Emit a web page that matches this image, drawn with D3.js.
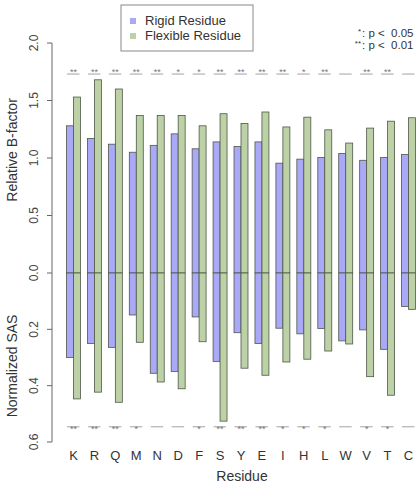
<!DOCTYPE html>
<html>
<head>
<meta charset="utf-8">
<script src="https://cdn.jsdelivr.net/npm/d3@7"></script>
<style>
  body { margin: 0; background: #fff; }
  svg { display: block; font-family: "Liberation Sans", Arial, sans-serif; }
</style>
</head>
<body>
<div id="chart"></div>
<script>
// residues along the x axis
const residues = ["K", "R", "Q", "M", "N", "D", "F", "S", "Y", "E", "I", "H", "L", "W", "V", "T", "C"];

// upper panel: relative B-factor
const rigidBfactor = [1.28, 1.17, 1.12, 1.05, 1.11, 1.21, 1.08, 1.14, 1.10, 1.14, 0.955, 0.99, 1.005, 1.04, 0.98, 1.005, 1.03];
const flexibleBfactor = [1.53, 1.68, 1.60, 1.37, 1.37, 1.37, 1.28, 1.385, 1.30, 1.40, 1.27, 1.355, 1.245, 1.13, 1.26, 1.32, 1.35];

// lower panel: normalized SAS (drawn downward)
const rigidSAS = [0.30, 0.25, 0.264, 0.149, 0.356, 0.35, 0.156, 0.314, 0.212, 0.25, 0.196, 0.216, 0.197, 0.241, 0.202, 0.271, 0.119];
const flexibleSAS = [0.447, 0.423, 0.459, 0.246, 0.387, 0.411, 0.244, 0.526, 0.338, 0.363, 0.316, 0.306, 0.277, 0.252, 0.368, 0.434, 0.129];

// significance marks
const sigBfactor = ["**", "**", "**", "**", "**", "*", "*", "**", "**", "**", "**", "*", "**", "", "**", "**", ""];
const sigSAS = ["**", "**", "**", "*", "", "", "*", "**", "**", "**", "*", "*", "*", "", "*", "*", ""];

const bTicks = [0, 0.5, 1.0, 1.5, 2.0];
const sasTicks = [0.2, 0.4, 0.6];

const width = 420, height = 486;
const axisX = 52;
const rigidColor = "#a9a9f7", flexColor = "#bcd2a6", barStroke = "#4f5648";

const svg = d3.select("#chart").append("svg")
    .attr("width", width)
    .attr("height", height);

// scales
const x = d3.scaleBand()
    .domain(residues)
    .range([63, 419])
    .paddingInner(1 / 3)
    .paddingOuter(1 / 6);

const xSub = d3.scaleBand()
    .domain(["rigid", "flexible"])
    .range([0, x.bandwidth()]);

const yB = d3.scaleLinear().domain([0, 2]).range([273, 43]);
const ySAS = d3.scaleLinear().domain([0, 0.6]).range([273, 442]);

// build rows
const rows = residues.map((r, i) => ({
    residue: r,
    bars: [
        { key: "rigid", b: rigidBfactor[i], sas: rigidSAS[i], color: rigidColor },
        { key: "flexible", b: flexibleBfactor[i], sas: flexibleSAS[i], color: flexColor }
    ],
    sigB: sigBfactor[i],
    sigS: sigSAS[i]
}));

const groups = svg.selectAll(".group")
    .data(rows)
    .join("g")
    .attr("class", "group")
    .attr("transform", d => `translate(${x(d.residue)},0)`);

// upper bars
groups.selectAll(".bar-b")
    .data(d => d.bars)
    .join("rect")
    .attr("class", "bar-b")
    .attr("x", d => xSub(d.key))
    .attr("width", xSub.bandwidth())
    .attr("y", d => yB(d.b))
    .attr("height", d => yB(0) - yB(d.b))
    .attr("fill", d => d.color)
    .attr("stroke", barStroke)
    .attr("stroke-width", 0.8);

// lower bars
groups.selectAll(".bar-s")
    .data(d => d.bars)
    .join("rect")
    .attr("class", "bar-s")
    .attr("x", d => xSub(d.key))
    .attr("width", xSub.bandwidth())
    .attr("y", ySAS(0))
    .attr("height", d => ySAS(d.sas) - ySAS(0))
    .attr("fill", d => d.color)
    .attr("stroke", barStroke)
    .attr("stroke-width", 0.8);

// significance lines and stars
const sigY = yB(1.73), sigYLow = ySAS(0.546);
groups.append("line")
    .attr("x1", 0.5).attr("x2", x.bandwidth() - 1)
    .attr("y1", sigY).attr("y2", sigY)
    .attr("stroke", "#8a8a8a").attr("stroke-width", 0.8);
groups.append("text")
    .attr("x", x.bandwidth() / 2)
    .attr("y", sigY + 1)
    .attr("text-anchor", "middle")
    .style("font-size", "9px")
    .style("fill", "#777")
    .text(d => d.sigB);

groups.append("line")
    .attr("x1", 0.5).attr("x2", x.bandwidth() - 1)
    .attr("y1", sigYLow).attr("y2", sigYLow)
    .attr("stroke", "#8a8a8a").attr("stroke-width", 0.8);
groups.append("text")
    .attr("x", x.bandwidth() / 2)
    .attr("y", sigYLow + 5.5)
    .attr("text-anchor", "middle")
    .style("font-size", "9px")
    .style("fill", "#777")
    .text(d => d.sigS);

// x labels
groups.append("text")
    .attr("x", x.bandwidth() / 2)
    .attr("y", 460)
    .attr("text-anchor", "middle")
    .style("font-size", "13px")
    .style("fill", "#333")
    .text(d => d.residue);

// y axes (R style: rotated tick labels)
const axisColor = "#666";
svg.append("line")
    .attr("x1", axisX).attr("x2", axisX)
    .attr("y1", yB(2)).attr("y2", ySAS(0.6))
    .attr("stroke", axisColor);

function tick(y, label) {
    svg.append("line")
        .attr("x1", axisX - 5).attr("x2", axisX)
        .attr("y1", y).attr("y2", y)
        .attr("stroke", axisColor);
    svg.append("text")
        .attr("transform", `translate(38,${y}) rotate(-90)`)
        .attr("text-anchor", "middle")
        .style("font-size", "12px")
        .style("fill", "#444")
        .text(label);
}
bTicks.forEach(t => tick(yB(t), d3.format(".1f")(t)));
sasTicks.forEach(t => tick(ySAS(t), d3.format(".1f")(t)));

// axis titles
svg.append("text")
    .attr("transform", `translate(17,${yB(1.07)}) rotate(-90)`)
    .attr("text-anchor", "middle")
    .style("font-size", "14px")
    .style("fill", "#333")
    .text("Relative B-factor");

svg.append("text")
    .attr("transform", `translate(17,${ySAS(0.33)}) rotate(-90)`)
    .attr("text-anchor", "middle")
    .style("font-size", "14px")
    .style("fill", "#333")
    .text("Normalized SAS");

svg.append("text")
    .attr("x", 242)
    .attr("y", 481)
    .attr("text-anchor", "middle")
    .style("font-size", "14px")
    .style("fill", "#333")
    .text("Residue");

// legend
const legend = svg.append("g").attr("transform", "translate(121,5)");
legend.append("rect")
    .attr("width", 132).attr("height", 46)
    .attr("fill", "white")
    .attr("stroke", "#888");
[{ label: "Rigid Residue", color: rigidColor }, { label: "Flexible Residue", color: flexColor }]
    .forEach((item, i) => {
        legend.append("rect")
            .attr("x", 9).attr("y", 13 + i * 15)
            .attr("width", 6).attr("height", 6)
            .attr("fill", item.color);
        legend.append("text")
            .attr("x", 24).attr("y", 20 + i * 15)
            .style("font-size", "13px")
            .style("fill", "#333")
            .text(item.label);
    });

// p-value key
const pKey = svg.append("g").attr("transform", "translate(361,0)");
[["*", ": p <  0.05"], ["**", ": p <  0.01"]].forEach((p, i) => {
    pKey.append("text")
        .attr("x", 0).attr("y", 34 + i * 12)
        .attr("text-anchor", "end")
        .style("font-size", "8px")
        .style("fill", "#333")
        .text(p[0]);
    pKey.append("text")
        .attr("x", 1).attr("y", 36.5 + i * 12)
        .style("font-size", "11.5px")
        .style("fill", "#333")
        .style("white-space", "pre")
        .text(p[1]);
});
</script>
</body>
</html>
